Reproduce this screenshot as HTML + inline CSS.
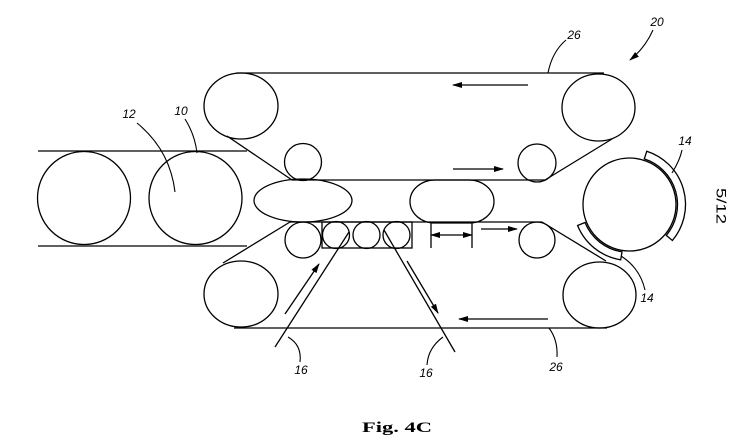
<!DOCTYPE html>
<html><head><meta charset="utf-8"><style>
html,body{margin:0;padding:0;background:#fff;}
svg{display:block;}
</style></head><body>
<svg width="737" height="441" viewBox="0 0 737 441" xmlns="http://www.w3.org/2000/svg">
<defs>
<marker id="ah" markerWidth="10" markerHeight="8" refX="9" refY="4" orient="auto" markerUnits="userSpaceOnUse">
<path d="M0,1 L10,4 L0,7 Z" fill="#000"/>
</marker>
<marker id="ahs" markerWidth="10" markerHeight="8" refX="1" refY="4" orient="auto" markerUnits="userSpaceOnUse">
<path d="M10,1 L0,4 L10,7 Z" fill="#000"/>
</marker>
</defs>
<g fill="none" stroke="#000" stroke-width="1.3">
<!-- left belt -->
<line x1="38" y1="151" x2="247" y2="151"/>
<line x1="38" y1="246" x2="247" y2="246"/>
<circle cx="84" cy="198" r="46.5"/>
<circle cx="195.5" cy="198" r="46.5"/>
<!-- top belt rollers -->
<ellipse cx="241" cy="106" rx="37" ry="33"/>
<ellipse cx="598.5" cy="107.5" rx="36.5" ry="33.5"/>
<line x1="236" y1="73" x2="604" y2="73"/>
<line x1="227" y1="136" x2="292" y2="180"/>
<line x1="292" y1="180" x2="545" y2="180"/>
<line x1="545" y1="180" x2="612" y2="139"/>
<circle cx="303" cy="162" r="18.5"/>
<circle cx="537" cy="163" r="19"/>
<!-- middle -->
<ellipse cx="303" cy="200.5" rx="49" ry="21.5"/>
<rect x="410" y="180" width="84" height="43" rx="25" ry="21.5"/>
<!-- lower belt -->
<line x1="290" y1="222" x2="542" y2="222"/>
<line x1="290" y1="222" x2="223" y2="263"/>
<line x1="542" y1="222" x2="606" y2="261"/>
<ellipse cx="241" cy="294" rx="37" ry="33"/>
<ellipse cx="599.5" cy="295" rx="36.5" ry="33"/>
<line x1="234" y1="328" x2="607" y2="328"/>
<circle cx="303" cy="240" r="18"/>
<circle cx="537" cy="240" r="18"/>
<rect x="322" y="222" width="90" height="26"/>
<circle cx="336" cy="235" r="13.5"/>
<circle cx="366.5" cy="235" r="13.5"/>
<circle cx="396.5" cy="235" r="13.5"/>
<line x1="431" y1="222" x2="431" y2="248"/>
<line x1="472" y1="222" x2="472" y2="248"/>
<line x1="431" y1="235" x2="472" y2="235" marker-start="url(#ahs)" marker-end="url(#ah)"/>
<line x1="481" y1="229" x2="517" y2="229" marker-end="url(#ah)"/>
<!-- arrows -->
<line x1="528" y1="85" x2="453" y2="85" marker-end="url(#ah)"/>
<line x1="453" y1="169" x2="503" y2="169" marker-end="url(#ah)"/>
<line x1="548" y1="319" x2="459" y2="319" marker-end="url(#ah)"/>
<!-- sheets 16 -->
<line x1="275" y1="347" x2="349" y2="232"/>
<line x1="285" y1="314" x2="319" y2="264" marker-end="url(#ah)"/>
<line x1="455" y1="352" x2="384" y2="230"/>
<line x1="407" y1="261" x2="438" y2="313" marker-end="url(#ah)"/>
<!-- drum -->
<circle cx="629.5" cy="204.5" r="46.5"/>
<path d="M644.3 158.9 A48 48 0 0 1 666.3 235.4 L672.4 240.5 A56 56 0 0 0 646.8 151.2 Z"/>
<path d="M622 251.9 A48 48 0 0 1 585 222.5 L577.6 225.5 A56 56 0 0 0 620.7 259.8 Z"/>
<!-- leaders -->
<g stroke-width="1.1">
<path d="M672 173 Q680 160 682 150"/>
<path d="M621 256 Q640 268 645 290"/>
<path d="M548 73 Q552 52 566 40"/>
<path d="M653 30 Q645 48 630 60" marker-end="url(#ah)"/>
<path d="M549 328 Q558 340 557 357"/>
<path d="M288 337 Q302 345 300 362"/>
<path d="M443 337 Q428 348 427 365"/>
<path d="M137 123 Q170 150 175 192"/>
<path d="M185 119 Q195 135 197 153"/>
</g>
</g>
<g font-family="Liberation Sans, sans-serif" font-style="italic" font-size="12" fill="#000" text-anchor="middle">
<text x="129" y="118">12</text>
<text x="181" y="115">10</text>
<text x="574" y="39">26</text>
<text x="657" y="26">20</text>
<text x="685" y="145">14</text>
<text x="647" y="302">14</text>
<text x="556" y="371">26</text>
<text x="301" y="374">16</text>
<text x="426" y="377">16</text>
</g>
<text transform="translate(721.5,206) rotate(90)" font-family="Liberation Sans, sans-serif" font-size="14" text-anchor="middle" dominant-baseline="central" textLength="36" lengthAdjust="spacingAndGlyphs" fill="#000">5/12</text>
<text x="362" y="432" font-family="Liberation Serif, serif" font-weight="bold" font-size="15" textLength="70" lengthAdjust="spacingAndGlyphs" fill="#000">Fig. 4C</text>
</svg>
</body></html>
